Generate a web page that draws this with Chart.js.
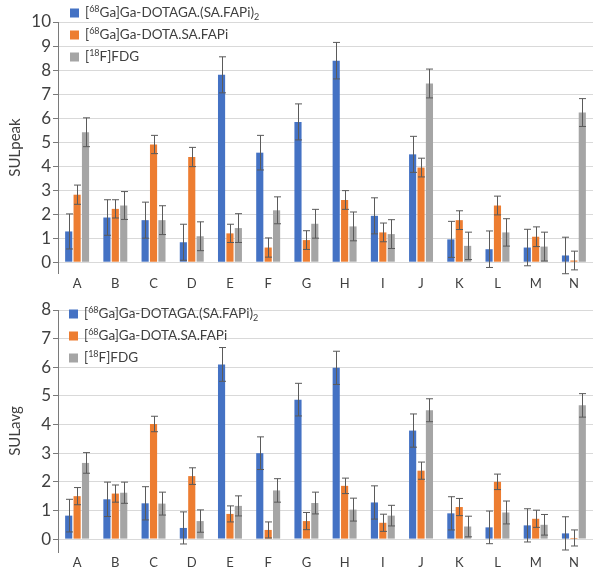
<!DOCTYPE html>
<html>
<head>
<meta charset="utf-8">
<script src="https://cdn.jsdelivr.net/npm/chart.js@4"></script>
<style>
  body { margin: 0; background: #fff; }
  .box { position: absolute; left: 0; width: 600px; }
</style>
</head>
<body>
<div class="box" style="top:0;height:290px"><canvas id="peak"></canvas></div>
<div class="box" style="top:288px;height:283px"><canvas id="avg"></canvas></div>
<script>
const categories = ['A','B','C','D','E','F','G','H','I','J','K','L','M','N'];
const colors = ['#4472C4', '#ED7D31', '#A5A5A5'];

// SULpeak
const peakDotaga    = [1.28, 1.86, 1.75, 0.83, 7.80, 4.56, 5.84, 8.39, 1.93, 4.49, 0.95, 0.54, 0.61, 0.28];
const peakDotagaErr = [0.73, 0.74, 0.75, 0.75, 0.75, 0.72, 0.75, 0.76, 0.75, 0.75, 0.75, 0.76, 0.76, 0.76];
const peakDota      = [2.81, 2.22, 4.90, 4.38, 1.20, 0.61, 0.92, 2.59, 1.24, 3.94, 1.75, 2.36, 1.06, 0.07];
const peakDotaErr   = [0.40, 0.38, 0.38, 0.40, 0.38, 0.40, 0.39, 0.39, 0.39, 0.39, 0.39, 0.39, 0.41, 0.39];
const peakFdg       = [5.41, 2.36, 1.75, 1.08, 1.42, 2.16, 1.60, 1.49, 1.17, 7.44, 0.68, 1.24, 0.65, 6.23];
const peakFdgErr    = [0.60, 0.58, 0.60, 0.60, 0.60, 0.56, 0.60, 0.60, 0.60, 0.60, 0.57, 0.57, 0.60, 0.58];

// SULavg
const avgDotaga    = [0.82, 1.39, 1.25, 0.39, 6.10, 3.00, 4.87, 5.98, 1.28, 3.79, 0.90, 0.41, 0.48, 0.20];
const avgDotagaErr = [0.57, 0.60, 0.58, 0.56, 0.59, 0.57, 0.57, 0.58, 0.58, 0.58, 0.58, 0.57, 0.58, 0.58];
const avgDota      = [1.50, 1.59, 4.02, 2.20, 0.88, 0.32, 0.63, 1.86, 0.57, 2.39, 1.12, 2.00, 0.71, 0.04];
const avgDotaErr   = [0.30, 0.30, 0.27, 0.29, 0.28, 0.28, 0.30, 0.27, 0.30, 0.30, 0.30, 0.27, 0.30, 0.28];
const avgFdg       = [2.66, 1.62, 1.24, 0.63, 1.16, 1.70, 1.26, 1.03, 0.82, 4.50, 0.44, 0.93, 0.50, 4.67];
const avgFdgErr    = [0.36, 0.37, 0.40, 0.39, 0.35, 0.41, 0.38, 0.40, 0.36, 0.40, 0.36, 0.40, 0.36, 0.41];

// legend labels, split so the isotope numbers can be raised / lowered
const legendLabels = [
  [['['], ['68', 'sup'], ['Ga]Ga-DOTAGA.(SA.FAPi)'], ['2', 'sub']],
  [['['], ['68', 'sup'], ['Ga]Ga-DOTA.SA.FAPi']],
  [['['], ['18', 'sup'], ['F]FDG']]
];

const FONT = 'Lato, "Liberation Sans", sans-serif';

const errorBars = {
  id: 'errorBars',
  afterDatasetsDraw(chart) {
    const ctx = chart.ctx, y = chart.scales.y;
    ctx.save();
    ctx.strokeStyle = '#5a5a5a';
    ctx.lineWidth = 1;
    chart.data.datasets.forEach((ds, i) => {
      chart.getDatasetMeta(i).data.forEach((bar, j) => {
        const v = ds.data[j], e = ds.errors[j];
        const x = Math.round(bar.x) + 0.5;
        const t = y.getPixelForValue(v + e), b = y.getPixelForValue(v - e);
        ctx.beginPath();
        ctx.moveTo(x, t); ctx.lineTo(x, b);
        ctx.moveTo(x - 3.5, t); ctx.lineTo(x + 3.5, t);
        ctx.moveTo(x - 3.5, b); ctx.lineTo(x + 3.5, b);
        ctx.stroke();
      });
    });
    ctx.restore();
  }
};

const drawnLegend = {
  id: 'drawnLegend',
  afterDraw(chart, args, opts) {
    const ctx = chart.ctx;
    ctx.save();
    ctx.textBaseline = 'middle';
    legendLabels.forEach((parts, i) => {
      const cy = opts.top + i * opts.step;
      ctx.fillStyle = colors[i];
      ctx.fillRect(opts.left, cy - 4.5, 9, 9);
      let x = opts.left + 15;
      ctx.fillStyle = '#404040';
      parts.forEach(([txt, kind]) => {
        let dy = 0;
        if (kind) {
          ctx.font = '9px ' + FONT;
          dy = kind === 'sup' ? -4 : 4;
        } else {
          ctx.font = '13.5px ' + FONT;
        }
        ctx.fillText(txt, x, cy + dy);
        x += ctx.measureText(txt).width;
      });
    });
    ctx.restore();
  }
};

function makeChart(id, title, max, sets, pad, legendPos) {
  const ds = sets.map((s, i) => ({
    data: s[0], errors: s[1],
    backgroundColor: colors[i],
    categoryPercentage: 0.66,
    barPercentage: 0.85
  }));
  new Chart(document.getElementById(id), {
    type: 'bar',
    data: { labels: categories, datasets: ds },
    plugins: [errorBars, drawnLegend],
    options: {
      responsive: true,
      maintainAspectRatio: false,
      animation: false,
      layout: { padding: pad },
      plugins: {
        legend: { display: false },
        tooltip: { enabled: false },
        drawnLegend: legendPos
      },
      scales: {
        x: {
          grid: { display: false, drawTicks: false },
          border: { display: false },
          ticks: { color: '#404040', font: { family: FONT, size: 13 }, padding: 3 },
          afterFit(s) { s.height = pad.xh; }
        },
        y: {
          min: -0.45, max: max,
          afterBuildTicks(s) {
            const t = [];
            for (let v = 0; v <= max; v++) t.push({ value: v });
            s.ticks = t;
          },
          ticks: { color: '#404040', font: { family: FONT, size: 17 }, padding: 2 },
          grid: { color: '#d9d9d9', tickColor: '#7a7a7a', tickLength: 5 },
          border: { color: '#7a7a7a' },
          title: { display: true, text: title, color: '#404040', font: { family: FONT, size: 15 }, padding: 6 },
          afterFit(s) { s.width = 58; }
        }
      }
    }
  });
}

makeChart('peak', 'SULpeak', 10,
  [[peakDotaga, peakDotagaErr], [peakDota, peakDotaErr], [peakFdg, peakFdgErr]],
  { top: 22, right: 7, left: 0, bottom: 0, xh: 17 },
  { left: 70, top: 13, step: 22 });

makeChart('avg', 'SULavg', 8,
  [[avgDotaga, avgDotagaErr], [avgDota, avgDotaErr], [avgFdg, avgFdgErr]],
  { top: 22, right: 7, left: 0, bottom: 0, xh: 19 },
  { left: 69, top: 26, step: 22 });
</script>
</body>
</html>
